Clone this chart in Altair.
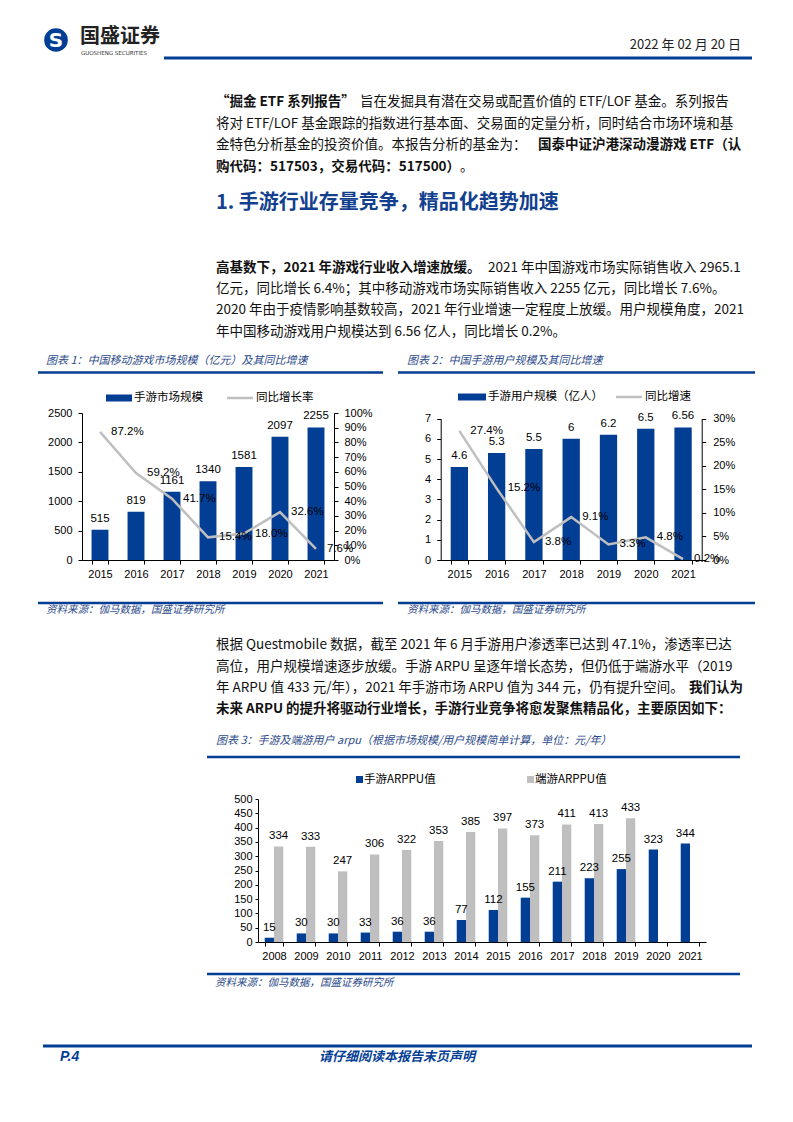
import altair as alt
import pandas as pd

# ---------------- data ----------------
years_a = ["2015", "2016", "2017", "2018", "2019", "2020", "2021"]
market_size = [515, 819, 1161, 1340, 1581, 2097, 2255]
market_yoy = [87.2, 59.2, 41.7, 15.4, 18.0, 32.6, 7.6]
user_size = [4.6, 5.3, 5.5, 6.0, 6.2, 6.5, 6.56]
user_yoy = [27.4, 15.2, 3.8, 9.1, 3.3, 4.8, 0.2]

years_b = ["2008", "2009", "2010", "2011", "2012", "2013", "2014",
           "2015", "2016", "2017", "2018", "2019", "2020", "2021"]
mobile_arpu = [15, 30, 30, 33, 36, 36, 77, 112, 155, 211, 223, 255, 323, 344]
pc_arpu = [334, 333, 247, 306, 322, 353, 385, 397, 373, 411, 413, 433, None, None]
series_b = ["手游ARPPU值", "端游ARPPU值"]

left_ticks = [0, 500, 1000, 1500, 2000, 2500]
pct_ticks_a = [0, 10, 20, 30, 40, 50, 60, 70, 80, 90, 100]
user_ticks = [0, 1, 2, 3, 4, 5, 6, 7]
pct_ticks_b = [0, 5, 10, 15, 20, 25, 30]
arpu_ticks = [0, 50, 100, 150, 200, 250, 300, 350, 400, 450, 500]

# ---------------- styles ----------------
CJK = "Noto Sans CJK SC"
NUM = "Liberation Sans"
BLUE = "#033E95"
GRAY = "#BFBFBF"
CAP = "#2C4B8A"
INK = "#111111"
BODY = 13.5
W = 777  # usable page width (page minus 8px margin on the left)


def txt(s, x, y, top, size=BODY, weight="normal", color=INK, align="left",
        style="normal", font=CJK):
    return alt.Chart(pd.DataFrame({"t": [s]})).mark_text(
        align=align, baseline="middle", fontSize=size, fontWeight=weight,
        fontStyle=style, color=color, font=font).encode(
        x=alt.value(x - 8), y=alt.value(y - top), text="t:N")


def hline(x1, x2, y, top, color=BLUE, w=2.5):
    return alt.Chart(pd.DataFrame({"a": [0]})).mark_rule(
        color=color, strokeWidth=w).encode(
        x=alt.value(x1 - 8), x2=alt.value(x2 - 8), y=alt.value(y - top))


def box(x1, x2, y1, y2, top, color):
    return alt.Chart(pd.DataFrame({"a": [0]})).mark_rect(color=color).encode(
        x=alt.value(x1 - 8), x2=alt.value(x2 - 8),
        y=alt.value(y1 - top), y2=alt.value(y2 - top))


def dot(x, y, top, size, color):
    return alt.Chart(pd.DataFrame({"a": [0]})).mark_circle(
        size=size, color=color, opacity=1).encode(
        x=alt.value(x - 8), y=alt.value(y - top))


L = 216

# ---------------- row A: header, text, chart captions, legends ----------------
TA = 8
row_a = alt.layer(
    dot(56, 40, TA, 560, BLUE),
    txt("S", 56, 41, TA, size=20, weight="bold", color="white", align="center", font="DejaVu Sans"),
    txt("国盛证券", 80, 37, TA, size=20, weight="bold", color="#222222"),
    txt("GUOSHENG SECURITIES", 81, 53, TA, size=5.5, color="#333333", font="DejaVu Sans"),
    txt("2022 年 02 月 20 日", 741, 45, TA, size=13, color="#222222", align="right"),
    hline(164, 752, 58, TA, w=3),
    # paragraph 1
    txt("“掘金 ETF 系列报告”", L, 102, TA, weight="bold"),
    txt("旨在发掘具有潜在交易或配置价值的 ETF/LOF 基金。系列报告", 360, 102, TA),
    txt("将对 ETF/LOF 基金跟踪的指数进行基本面、交易面的定量分析，同时结合市场环境和基", L, 124, TA),
    txt("金特色分析基金的投资价值。本报告分析的基金为：", L, 145, TA),
    txt("国泰中证沪港深动漫游戏 ETF（认", 538, 145, TA, weight="bold"),
    txt("购代码：517503，交易代码：517500）", L, 167, TA, weight="bold"),
    txt("。", 460, 167, TA),
    # heading
    txt("1. 手游行业存量竞争，精品化趋势加速", L, 203, TA, size=20, weight="bold", color="#123F8E"),
    # paragraph 2
    txt("高基数下，2021 年游戏行业收入增速放缓。", L, 268, TA, weight="bold"),
    txt("2021 年中国游戏市场实际销售收入 2965.1", 488, 268, TA),
    txt("亿元，同比增长 6.4%；其中移动游戏市场实际销售收入 2255 亿元，同比增长 7.6%。", L, 289, TA),
    txt("2020 年由于疫情影响基数较高，2021 年行业增速一定程度上放缓。用户规模角度，2021", L, 310, TA),
    txt("年中国移动游戏用户规模达到 6.56 亿人，同比增长 0.2%。", L, 332, TA),
    # chart captions
    txt("图表 1：中国移动游戏市场规模（亿元）及其同比增速", 46, 361, TA, size=11, color=CAP, style="italic"),
    txt("图表 2：中国手游用户规模及其同比增速", 407, 361, TA, size=11, color=CAP, style="italic"),
    hline(38, 383, 372.5, TA),
    hline(398, 755, 372.5, TA),
    # legend 1
    box(106, 132, 394.5, 401.5, TA, BLUE),
    txt("手游市场规模", 134, 398, TA, size=11.5, color="#000000"),
    hline(227, 253, 398, TA, color=GRAY, w=2.5),
    txt("同比增长率", 256, 398, TA, size=11.5, color="#000000"),
    # legend 2
    box(458, 486, 393.5, 400.5, TA, BLUE),
    txt("手游用户规模（亿人）", 488, 397, TA, size=11.5, color="#000000"),
    hline(616, 642, 397, TA, color=GRAY, w=2.5),
    txt("同比增速", 645, 397, TA, size=11.5, color="#000000"),
).properties(width=W, height=405)

# ---------------- row B: charts 1 and 2 side by side (page y 413 -> 560) ----------------
HB = 147
C1X0, C1X1 = 82 - 8, 334 - 8
C2X0, C2X1 = 440.7 - 8, 701.7 - 8
C2TOP = 418.6 - 413

df1 = pd.DataFrame({"year": years_a, "size": market_size, "yoy": market_yoy})
df1["yoy_label"] = [f"{v:.1f}%" for v in market_yoy]
df2 = pd.DataFrame({"year": years_a, "size": user_size, "yoy": user_yoy})
df2["yoy_label"] = [f"{v:.1f}%" for v in user_yoy]


def combo(df, x0, x1, pad, ytop, ydom, yvals, yfmt, rdom, rvals, loff, roff, rpad):
    xs = alt.X("year:N", sort=years_a, title=None,
               scale=alt.Scale(range=[x0, x1], paddingInner=pad, paddingOuter=pad / 2),
               axis=alt.Axis(labelAngle=0, tickBand="extent", labelPadding=4, orient="bottom"))
    xh = alt.X("year:N", sort=years_a, title=None,
               scale=alt.Scale(range=[x0, x1], paddingInner=pad, paddingOuter=pad / 2),
               axis=None)
    ys = alt.Scale(domain=ydom, range=[HB, ytop], nice=False)
    rs = alt.Scale(domain=rdom, range=[HB, ytop], nice=False)
    yax = alt.Axis(values=yvals, labelPadding=6, orient="left", offset=loff, format="d")
    rax = alt.Axis(orient="right", values=rvals, labelPadding=rpad, offset=roff,
                   labelExpr="datum.value + '%'")
    bars = alt.Chart(df).mark_bar(color=BLUE).encode(
        x=xs, y=alt.Y("size:Q", scale=ys, title=None, axis=yax))
    btxt = alt.Chart(df).mark_text(dy=-11, baseline="middle", font=NUM, fontSize=11.5,
                                   color="#000").encode(
        x=xs, y=alt.Y("size:Q", scale=ys, title=None, axis=yax),
        text=alt.Text("size:Q", format=yfmt))
    line = alt.Chart(df).mark_line(color=GRAY, strokeWidth=2.5).encode(
        x=xh, y=alt.Y("yoy:Q", scale=rs, title=None, axis=rax))
    ltxt = alt.Chart(df).mark_text(align="left", dx=11, baseline="middle", font=NUM,
                                   fontSize=11.5, color="#000").encode(
        x=xh, y=alt.Y("yoy:Q", scale=rs, title=None, axis=rax), text="yoy_label:N")
    return alt.layer(bars, btxt), alt.layer(line, ltxt)


a1, a2 = combo(df1, C1X0, C1X1, 0.53, 0, [0, 2500], left_ticks, ".0f",
               [0, 100], pct_ticks_a, -C1X0, -(W - C1X1), 6)
b1, b2 = combo(df2, C2X0, C2X1, 0.536, C2TOP, [0, 7], user_ticks, ".3~g",
               [0, 30], pct_ticks_b, -C2X0, -(W - C2X1), 7)
row_b = alt.layer(a1, a2, b1, b2).resolve_scale(
    x="independent", y="independent").properties(width=W, height=HB)

# ---------------- row C: sources, paragraph 3, chart 3 caption / legend ----------------
TC = 560
row_c = alt.layer(
    hline(38, 383, 603, TC),
    txt("资料来源：伽马数据，国盛证券研究所", 46, 610, TC, size=10.5, color=CAP, style="italic"),
    hline(398, 755, 603, TC),
    txt("资料来源：伽马数据，国盛证券研究所", 407, 610, TC, size=10.5, color=CAP, style="italic"),
    txt("根据 Questmobile 数据，截至 2021 年 6 月手游用户渗透率已达到 47.1%，渗透率已达", L, 645, TC),
    txt("高位，用户规模增速逐步放缓。手游 ARPU 呈逐年增长态势，但仍低于端游水平（2019", L, 667, TC),
    txt("年 ARPU 值 433 元/年），2021 年手游市场 ARPU 值为 344 元，仍有提升空间。", L, 688, TC),
    txt("我们认为", 689, 688, TC, weight="bold"),
    txt("未来 ARPU 的提升将驱动行业增长，手游行业竞争将愈发聚焦精品化，主要原因如下：", L, 709, TC, weight="bold"),
    txt("图表 3：手游及端游用户 arpu（根据市场规模/用户规模简单计算，单位：元/年）", L, 741, TC,
        size=11, color=CAP, style="italic"),
    hline(207, 740, 757, TC),
    box(356, 363, 776, 783, TC, BLUE),
    txt("手游ARPPU值", 364, 779.5, TC, size=11.5, color="#000000"),
    box(527, 534, 776, 783, TC, GRAY),
    txt("端游ARPPU值", 535, 779.5, TC, size=11.5, color="#000000"),
).properties(width=W, height=239)

# ---------------- row D: chart 3 (page y 799 -> 942) ----------------
HD = 143
C3X0, C3X1 = 258 - 8, 706 - 8
df3 = pd.DataFrame({
    "year": years_b + years_b,
    "series": [series_b[0]] * len(years_b) + [series_b[1]] * len(years_b),
    "value": mobile_arpu + pc_arpu,
}).dropna()

x3 = alt.X("year:N", sort=years_b, title=None,
           scale=alt.Scale(range=[C3X0, C3X1], paddingInner=0.42, paddingOuter=0.21),
           axis=alt.Axis(labelAngle=0, tickBand="extent", labelPadding=4))
xo3 = alt.XOffset("series:N", sort=series_b, scale=alt.Scale(domain=series_b, paddingInner=0))
ys3 = alt.Scale(domain=[0, 500], range=[HD, 0], nice=False)
yax3 = alt.Axis(values=arpu_ticks, tickSize=3, labelPadding=3, offset=-C3X0, format="d")
bars3 = alt.Chart(df3).mark_bar().encode(
    x=x3, xOffset=xo3,
    y=alt.Y("value:Q", scale=ys3, title=None, axis=yax3),
    color=alt.Color("series:N", scale=alt.Scale(domain=series_b, range=[BLUE, GRAY]), legend=None))
txt3 = alt.Chart(df3).mark_text(dy=-10, baseline="middle", font=NUM, fontSize=11.5,
                                color="#000").encode(
    x=x3, xOffset=xo3,
    y=alt.Y("value:Q", scale=ys3, title=None, axis=yax3),
    text=alt.Text("value:Q", format=".0f"))
row_d = alt.layer(bars3, txt3).properties(width=W, height=HD)

# ---------------- row E: source and footer ----------------
TE = 942
row_e = alt.layer(
    hline(207, 740, 974, TE),
    txt("资料来源：伽马数据，国盛证券研究所", 215, 983, TE, size=10.5, color=CAP, style="italic"),
    hline(43, 752, 1046, TE, w=3),
    txt("P.4", 60, 1057, TE, size=14, weight="bold", style="italic", color=BLUE, font=NUM),
    txt("请仔细阅读本报告末页声明", 397, 1057, TE, size=13, weight="bold", style="italic",
        color=BLUE, align="center"),
).properties(width=W, height=172)

page = alt.vconcat(row_a, row_b, row_c, row_d, row_e, spacing=0, bounds="flush").properties(
    padding=0, background="white"
).configure_view(stroke=None).configure_axis(
    labelFont=NUM, labelFontSize=11, labelColor="#000000",
    domainColor="#000000", tickColor="#000000", tickSize=4,
    grid=False, domainWidth=1, tickWidth=1)

page.save("out.html", embed_options={"renderer": "svg", "actions": False})
